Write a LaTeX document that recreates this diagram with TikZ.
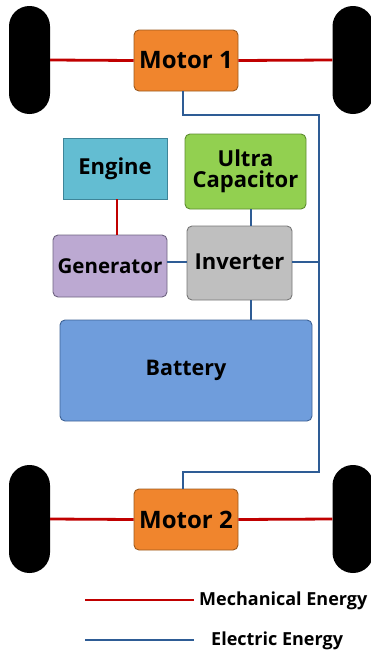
\documentclass[tikz,border=0pt]{standalone}
\usepackage{fontspec}
\setmainfont{Open Sans}
\definecolor{motorfill}{HTML}{F0852D}
\definecolor{motordraw}{HTML}{9C5A1E}
\definecolor{enginefill}{HTML}{63BDD2}
\definecolor{enginedraw}{HTML}{3E8599}
\definecolor{ucfill}{HTML}{92D050}
\definecolor{ucdraw}{HTML}{5E8C30}
\definecolor{genfill}{HTML}{BCA9D2}
\definecolor{gendraw}{HTML}{6E6380}
\definecolor{invfill}{HTML}{BFBFBF}
\definecolor{invdraw}{HTML}{777777}
\definecolor{batfill}{HTML}{6F9DDC}
\definecolor{batdraw}{HTML}{3E6396}
\definecolor{mech}{HTML}{C00000}
\definecolor{elec}{HTML}{2E5C95}
\tikzset{
  box/.style={draw, line width=0.9pt, font=\bfseries\fontsize{22}{24}\selectfont, align=center, inner sep=0pt},
  rbox/.style={box, rounded corners=5pt},
  wheel/.style={fill=black, draw=none, minimum width=41pt, minimum height=108pt, rounded corners=20.4pt, inner sep=0pt},
  mline/.style={draw=mech, line width=2.8pt},
  eline/.style={draw=elec, line width=2.8pt},
  legtext/.style={font=\bfseries\fontsize{18}{20}\selectfont, anchor=west, inner sep=0pt}
}
\begin{document}
\begin{tikzpicture}[x=1pt,y=-1pt]
\useasboundingbox (0,0) rectangle (371,653);
% wheels
\node[wheel] (wtl) at (29.5,60) {};
\node[wheel] (wtr) at (353,60) {};
\node[wheel] (wbl) at (29.5,519) {};
\node[wheel] (wbr) at (353,519) {};
% boxes
\node[rbox, fill=motorfill, draw=motordraw, minimum width=104pt, minimum height=61pt, font=\bfseries\fontsize{24}{26}\selectfont] (m1) at (186,60.5) {Motor 1};
\node[rbox, fill=motorfill, draw=motordraw, minimum width=104pt, minimum height=61pt, font=\bfseries\fontsize{24}{26}\selectfont] (m2) at (186,519.5) {Motor 2};
\node[box, fill=enginefill, draw=enginedraw, minimum width=104pt, minimum height=61pt] (eng) at (115,168.5) {Engine};
\node[rbox, fill=ucfill, draw=ucdraw, minimum width=121pt, minimum height=75pt] (uc) at (245.5,171.5) {Ultra\\[-3pt]Capacitor};
\node[rbox, fill=genfill, draw=gendraw, minimum width=114pt, minimum height=62pt, font=\bfseries\fontsize{20.5}{22}\selectfont] (gen) at (110,266) {Generator};
\node[rbox, fill=invfill, draw=invdraw, minimum width=105pt, minimum height=74pt] (inv) at (239.5,263) {\raisebox{3pt}{Inverter}};
\node[rbox, fill=batfill, draw=batdraw, minimum width=252pt, minimum height=101pt, font=\bfseries\fontsize{21.5}{23}\selectfont] (bat) at (186,370.5) {Battery};
% helper coordinates
\coordinate (bt) at (319,115);
\coordinate (bb) at (319,472);
\coordinate (vx) at (251,0);
\coordinate (rx) at (117,0);
\coordinate (mx) at (183,0);
\coordinate (ly) at (0,262);
% mechanical connections
\draw[mline] (wtl.east) -- (m1.west);
\draw[mline] (m1.east) -- (wtr.west);
\draw[mline] (wbl.east) -- (m2.west);
\draw[mline] (m2.east) -- (wbr.west);
\draw[mline] (eng.south -| rx) -- (gen.north -| rx);
% electric connections
\draw[eline] (m1.south -| mx) |- (bt) -- (bb) -| (m2.north -| mx);
\draw[eline] (uc.south -| vx) -- (inv.north -| vx);
\draw[eline] (inv.south -| vx) -- (bat.north -| vx);
\draw[eline] (gen.east |- ly) -- (inv.west |- ly);
\draw[eline] (inv.east |- ly) -- (bt |- ly);
% legend
\coordinate (l1a) at (85,600);
\coordinate (l1b) at (194,600);
\coordinate (l2a) at (85,640);
\coordinate (l2b) at (194,640);
\draw[mline] (l1a) -- (l1b);
\draw[eline] (l2a) -- (l2b);
\node[legtext] (t1) at (199,601) {Mechanical Energy};
\node[legtext] (t2) at (211,641) {Electric Energy};
\end{tikzpicture}
\end{document}
